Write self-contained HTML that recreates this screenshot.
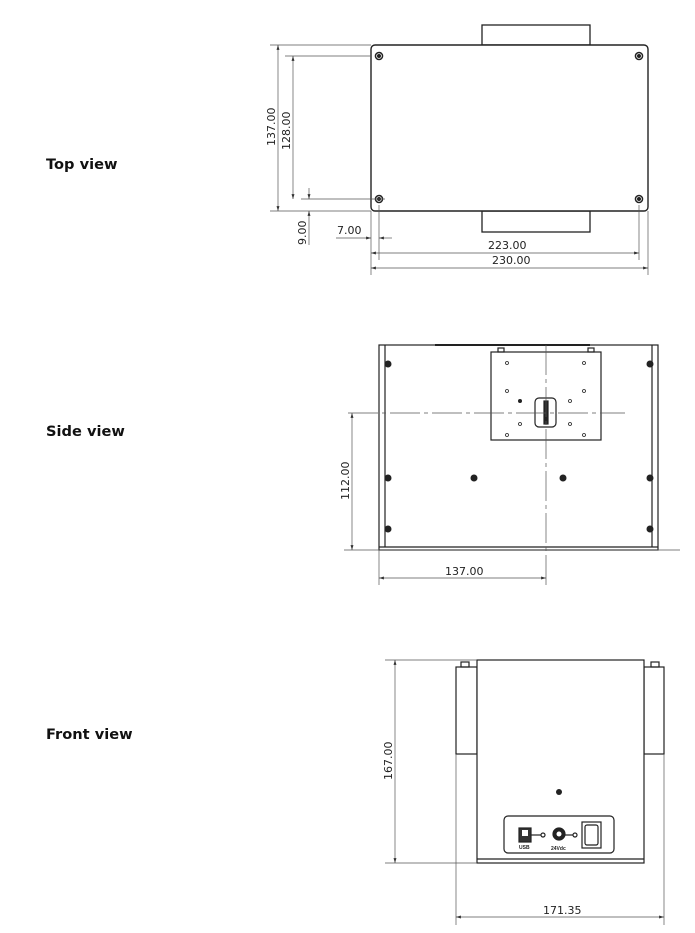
<!DOCTYPE html>
<html><head><style>
html,body{margin:0;padding:0;background:#fff;}
svg{display:block;}
.l{font-family:"DejaVu Sans","Liberation Sans",sans-serif;font-weight:bold;font-size:14.6px;fill:#111;}
.d{font-family:"DejaVu Sans","Liberation Sans",sans-serif;font-size:11px;fill:#222;}
</style></head><body>
<svg width="695" height="933" viewBox="0 0 695 933" xmlns="http://www.w3.org/2000/svg">
<defs>
<marker id="a" viewBox="0 0 10 10" refX="10" refY="5" markerWidth="7" markerHeight="7" orient="auto-start-reverse"><path d="M0,2 L10,5 L0,8z" fill="#333"/></marker>
</defs>
<text class="l" x="46" y="169">Top view</text>
<text class="l" x="46" y="436">Side view</text>
<text class="l" x="46" y="739">Front view</text>

<!-- TOP VIEW -->
<g stroke="#222" fill="none">
<rect x="482" y="25" width="108" height="20" stroke-width="1.3"/>
<rect x="482" y="211" width="108" height="21" stroke-width="1.3"/>
<rect x="371" y="45" width="277" height="166" rx="4" stroke-width="1.4" fill="#fff"/>
</g>
<g fill="#222">
<circle cx="379" cy="56" r="4.3"/><circle cx="639" cy="56" r="4.3"/><circle cx="379" cy="199" r="4.3"/><circle cx="639" cy="199" r="4.3"/>
</g>
<g fill="none" stroke="#fff" stroke-width="0.8"><circle cx="379" cy="56" r="2.4"/><circle cx="639" cy="56" r="2.4"/><circle cx="379" cy="199" r="2.4"/><circle cx="639" cy="199" r="2.4"/></g>
<g stroke="#555" stroke-width="0.7" fill="none">
<line x1="270" y1="45" x2="371" y2="45"/><line x1="270" y1="211" x2="371" y2="211"/>
<line x1="285" y1="56" x2="371" y2="56"/><line x1="301" y1="199" x2="385" y2="199"/>
<line x1="278" y1="45" x2="278" y2="211" marker-start="url(#a)" marker-end="url(#a)"/>
<line x1="293" y1="56" x2="293" y2="199" marker-start="url(#a)" marker-end="url(#a)"/>
<line x1="309" y1="188" x2="309" y2="199" marker-end="url(#a)"/>
<line x1="309" y1="245" x2="309" y2="211" marker-end="url(#a)"/>
<line x1="371" y1="211" x2="371" y2="275"/><line x1="379" y1="205" x2="379" y2="260"/>
<line x1="639" y1="205" x2="639" y2="260"/><line x1="648" y1="211" x2="648" y2="275"/>
<line x1="336" y1="238" x2="371" y2="238" marker-end="url(#a)"/>
<line x1="392" y1="238" x2="379" y2="238" marker-end="url(#a)"/>
<line x1="371" y1="253" x2="639" y2="253" marker-start="url(#a)" marker-end="url(#a)"/>
<line x1="371" y1="268" x2="648" y2="268" marker-start="url(#a)" marker-end="url(#a)"/>
</g>
<text class="d" transform="translate(275,146) rotate(-90)">137.00</text>
<text class="d" transform="translate(290,150) rotate(-90)">128.00</text>
<text class="d" transform="translate(306,245) rotate(-90)">9.00</text>
<text class="d" x="337" y="234">7.00</text>
<text class="d" x="488" y="249">223.00</text>
<text class="d" x="492" y="264">230.00</text>

<!-- SIDE VIEW -->
<g stroke="#222" fill="none" stroke-width="1.2">
<rect x="379" y="345" width="279" height="205"/>
<line x1="385" y1="345" x2="385" y2="547"/><line x1="652" y1="345" x2="652" y2="547"/>
<line x1="379" y1="547" x2="658" y2="547"/>
<line x1="435" y1="345" x2="590" y2="345" stroke-width="2"/>
<rect x="491" y="352" width="110" height="88" fill="#fff"/>
<rect x="498" y="348" width="6" height="4"/><rect x="588" y="348" width="6" height="4"/>
<rect x="535" y="398" width="21" height="29" rx="4"/>
<rect x="544" y="401" width="4" height="23" fill="#222"/>
</g>
<g stroke="#555" stroke-width="0.7" fill="none">
<line x1="348" y1="413" x2="625" y2="413" stroke-dasharray="30,4,4,4"/>
<line x1="546" y1="345" x2="546" y2="585" stroke-dasharray="30,4,4,4"/>
<line x1="344" y1="550" x2="680" y2="550"/>
<line x1="352" y1="413" x2="352" y2="550" marker-start="url(#a)" marker-end="url(#a)"/>
<line x1="379" y1="550" x2="379" y2="585"/>
<line x1="379" y1="578" x2="546" y2="578" marker-start="url(#a)" marker-end="url(#a)"/>
</g>
<g fill="#222">
<circle cx="388" cy="364" r="3.5"/><circle cx="388" cy="478" r="3.5"/><circle cx="388" cy="529" r="3.5"/>
<circle cx="650" cy="364" r="3.5"/><circle cx="650" cy="478" r="3.5"/><circle cx="650" cy="529" r="3.5"/>
<circle cx="474" cy="478" r="3.5"/><circle cx="563" cy="478" r="3.5"/>
<circle cx="520" cy="401" r="2"/>
</g>
<g fill="none" stroke="#222" stroke-width="0.8">
<circle cx="507" cy="363" r="1.5"/><circle cx="584" cy="363" r="1.5"/><circle cx="507" cy="391" r="1.5"/><circle cx="584" cy="391" r="1.5"/>
<circle cx="570" cy="401" r="1.5"/><circle cx="520" cy="424" r="1.5"/><circle cx="570" cy="424" r="1.5"/>
<circle cx="507" cy="435" r="1.5"/><circle cx="584" cy="435" r="1.5"/>
</g>
<text class="d" transform="translate(349,500) rotate(-90)">112.00</text>
<text class="d" x="445" y="575">137.00</text>

<!-- FRONT VIEW -->
<g stroke="#222" fill="none" stroke-width="1.2">
<rect x="456" y="667" width="21" height="87"/><rect x="644" y="667" width="20" height="87"/>
<rect x="461" y="662" width="8" height="5"/><rect x="651" y="662" width="8" height="5"/>
<rect x="477" y="660" width="167" height="203" fill="#fff"/>
<line x1="477" y1="859" x2="644" y2="859"/>
<rect x="504" y="816" width="110" height="37" rx="4"/>
<rect x="519" y="828" width="12" height="14" fill="#333"/>
<circle cx="543" cy="835" r="2"/><line x1="531" y1="835" x2="541" y2="835"/>
<circle cx="559" cy="834" r="6" fill="#222"/>
<circle cx="575" cy="835" r="2"/><line x1="565" y1="835" x2="573" y2="835"/>
<rect x="582" y="822" width="19" height="26"/><rect x="585" y="825" width="13" height="20" rx="2"/>
</g>
<rect x="522" y="830" width="6" height="6" fill="#fff"/>
<circle cx="559" cy="834" r="2.5" fill="#fff"/>
<text x="519" y="849" style="font-family:'Liberation Sans',sans-serif;font-size:5px;font-weight:bold" fill="#222">USB</text>
<text x="551" y="850" style="font-family:'Liberation Sans',sans-serif;font-size:5px;font-weight:bold" fill="#222">24Vdc</text>
<circle cx="559" cy="792" r="3" fill="#222"/>
<g stroke="#555" stroke-width="0.7" fill="none">
<line x1="385" y1="660" x2="477" y2="660"/><line x1="385" y1="863" x2="477" y2="863"/>
<line x1="395" y1="660" x2="395" y2="863" marker-start="url(#a)" marker-end="url(#a)"/>
<line x1="456" y1="754" x2="456" y2="925"/><line x1="664" y1="754" x2="664" y2="925"/>
<line x1="456" y1="917" x2="664" y2="917" marker-start="url(#a)" marker-end="url(#a)"/>
</g>
<text class="d" transform="translate(392,780) rotate(-90)">167.00</text>
<text class="d" x="543" y="914">171.35</text>
</svg>
</body></html>
